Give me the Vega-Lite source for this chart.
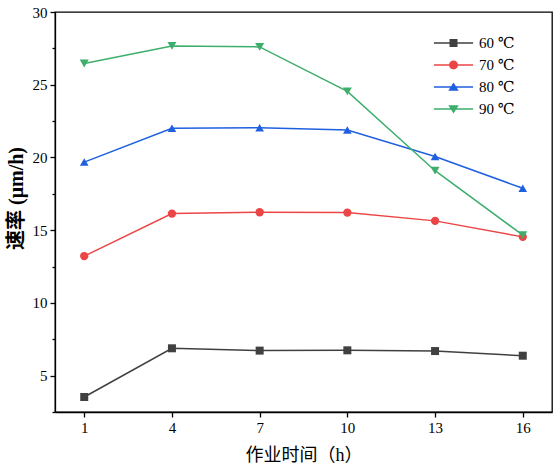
{
  "$schema": "https://vega.github.io/schema/vega-lite/v6.json",
  "width": 497,
  "height": 400,
  "autosize": {"type": "none"},
  "padding": {"left": 55, "top": 12, "right": 2, "bottom": 59},
  "background": "white",
  "data": {
    "values": [
      {"t": 1, "v": 3.53, "series": "60 ℃"},
      {"t": 4, "v": 6.88, "series": "60 ℃"},
      {"t": 7, "v": 6.72, "series": "60 ℃"},
      {"t": 10, "v": 6.74, "series": "60 ℃"},
      {"t": 13, "v": 6.69, "series": "60 ℃"},
      {"t": 16, "v": 6.37, "series": "60 ℃"},
      {"t": 1, "v": 13.22, "series": "70 ℃"},
      {"t": 4, "v": 16.14, "series": "70 ℃"},
      {"t": 7, "v": 16.23, "series": "70 ℃"},
      {"t": 10, "v": 16.21, "series": "70 ℃"},
      {"t": 13, "v": 15.64, "series": "70 ℃"},
      {"t": 16, "v": 14.54, "series": "70 ℃"},
      {"t": 1, "v": 19.68, "series": "80 ℃"},
      {"t": 4, "v": 22.0, "series": "80 ℃"},
      {"t": 7, "v": 22.05, "series": "80 ℃"},
      {"t": 10, "v": 21.88, "series": "80 ℃"},
      {"t": 13, "v": 20.07, "series": "80 ℃"},
      {"t": 16, "v": 17.88, "series": "80 ℃"},
      {"t": 1, "v": 26.46, "series": "90 ℃"},
      {"t": 4, "v": 27.67, "series": "90 ℃"},
      {"t": 7, "v": 27.6, "series": "90 ℃"},
      {"t": 10, "v": 24.54, "series": "90 ℃"},
      {"t": 13, "v": 19.09, "series": "90 ℃"},
      {"t": 16, "v": 14.66, "series": "90 ℃"}
    ]
  },
  "config": {
    "view": {"stroke": "black", "strokeWidth": 1.3},
    "axis": {
      "grid": false,
      "domainColor": "black",
      "domainWidth": 1.3,
      "tickColor": "black",
      "tickWidth": 1.3,
      "tickSize": 5,
      "labelColor": "black",
      "labelFont": "'Liberation Serif', 'Times New Roman', 'DejaVu Serif', serif",
      "labelFontSize": 15,
      "labelOverlap": false,
      "labelFlush": false,
      "titleColor": "black"
    }
  },
  "encoding": {
    "x": {
      "field": "t",
      "type": "quantitative",
      "scale": {"domain": [0, 17], "nice": false, "zero": false},
      "axis": {
        "values": [1, 4, 7, 10, 13, 16],
        "format": "d",
        "labelPadding": 3,
        "title": "作业时间（h）",
        "titleFont": "'Liberation Serif', 'Times New Roman', 'Noto Sans CJK SC', serif",
        "titleFontSize": 18,
        "titleFontWeight": "normal",
        "titlePadding": 11
      }
    },
    "y": {
      "field": "v",
      "type": "quantitative",
      "scale": {"domain": [2.5, 30], "nice": false, "zero": false},
      "axis": {
        "values": [2.5, 5, 7.5, 10, 12.5, 15, 17.5, 20, 22.5, 25, 27.5, 30],
        "labelExpr": "datum.value % 5 === 0 ? format(datum.value, 'd') : ''",
        "tickSize": {"condition": {"test": "datum.value % 5 === 0", "value": 5}, "value": 3},
        "labelPadding": 3,
        "title": "速率 (μm/h)",
        "titleFont": "'Liberation Serif', 'Times New Roman', 'Noto Sans CJK SC', serif",
        "titleFontSize": 20,
        "titleFontWeight": "bold",
        "titlePadding": 6,
        "titleY": 186
      }
    }
  },
  "layer": [
    {
      "mark": {"type": "line", "strokeWidth": 1.5},
      "encoding": {
        "color": {
          "field": "series",
          "type": "nominal",
          "scale": {"domain": ["60 ℃", "70 ℃", "80 ℃", "90 ℃"], "range": ["#404040", "#ec4545", "#1f60e0", "#3dae6b"]},
          "legend": null
        }
      }
    },
    {
      "mark": {"type": "point", "filled": true, "opacity": 1, "strokeWidth": 0},
      "encoding": {
        "color": {
          "field": "series",
          "type": "nominal",
          "scale": {"domain": ["60 ℃", "70 ℃", "80 ℃", "90 ℃"], "range": ["#404040", "#ec4545", "#1f60e0", "#3dae6b"]},
          "legend": null
        },
        "shape": {
          "field": "series",
          "type": "nominal",
          "scale": {"domain": ["60 ℃", "70 ℃", "80 ℃", "90 ℃"], "range": ["square", "circle", "triangle-up", "triangle-down"]},
          "legend": null
        },
        "size": {
          "field": "series",
          "type": "nominal",
          "scale": {"domain": ["60 ℃", "70 ℃", "80 ℃", "90 ℃"], "range": [64, 81, 125, 125]},
          "legend": null
        }
      }
    },
    {
      "transform": [{"filter": "false"}],
      "mark": {"type": "point", "filled": true, "opacity": 1, "size": 64, "strokeWidth": 0},
      "encoding": {
        "color": {
          "field": "label",
          "type": "nominal",
          "scale": {"domain": ["60 ℃", "70 ℃", "80 ℃", "90 ℃"], "range": ["#404040", "#ec4545", "#1f60e0", "#3dae6b"]},
          "legend": {
            "orient": "none",
            "legendX": 391,
            "legendY": 23.5,
            "title": null,
            "padding": 0,
            "labelFont": "'Liberation Serif', 'Times New Roman', 'DejaVu Serif', serif",
            "labelFontSize": 15,
            "labelColor": "black",
            "labelOffset": 18,
            "rowPadding": 6,
            "symbolSize": 64,
            "symbolStrokeWidth": 0,
            "symbolOpacity": 1
          }
        },
        "shape": {
          "field": "label",
          "type": "nominal",
          "scale": {
            "domain": ["60 ℃", "70 ℃", "80 ℃", "90 ℃"],
            "range": [
              "M-4.9,-0.17L4.9,-0.17L4.9,0.17L-4.9,0.17Z M-1,-1L1,-1L1,1L-1,1Z",
              "M-4.9,-0.17L4.9,-0.17L4.9,0.17L-4.9,0.17Z M-1.12,0A1.12,1.12 0 1,1 1.12,0A1.12,1.12 0 1,1 -1.12,0Z",
              "M-4.9,-0.17L4.9,-0.17L4.9,0.17L-4.9,0.17Z M0,-1.1L1.3,0.95L-1.3,0.95Z",
              "M-4.9,-0.17L4.9,-0.17L4.9,0.17L-4.9,0.17Z M-1.3,-0.95L1.3,-0.95L0,1.1Z"
            ]
          },
          "legend": {
            "orient": "none",
            "legendX": 391,
            "legendY": 23.5,
            "title": null,
            "padding": 0,
            "labelFont": "'Liberation Serif', 'Times New Roman', 'DejaVu Serif', serif",
            "labelFontSize": 15,
            "labelColor": "black",
            "labelOffset": 18,
            "rowPadding": 6,
            "symbolSize": 64,
            "symbolStrokeWidth": 0,
            "symbolOpacity": 1
          }
        }
      }
    }
  ],
  "resolve": {"scale": {"color": "independent", "shape": "independent", "size": "independent"}}
}
